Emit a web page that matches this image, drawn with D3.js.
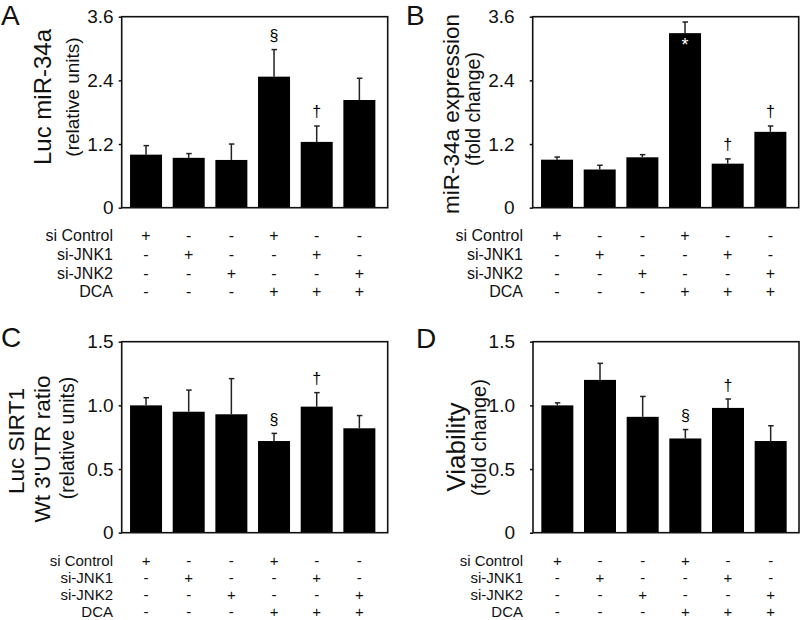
<!DOCTYPE html>
<html><head><meta charset="utf-8">
<script src="https://cdn.jsdelivr.net/npm/d3@7"></script>
<style>
html,body{margin:0;padding:0;background:#fff;}
svg text{font-family:"Liberation Sans",Arial,Helvetica,sans-serif;fill:#111;}
</style></head>
<body>
<svg id="chart" width="800" height="620"></svg>
<script>
// ---------------- data ----------------
const groups = [1, 2, 3, 4, 5, 6];
const conditionLabels = ["si Control", "si-JNK1", "si-JNK2", "DCA"];
const conditionSigns = [
  ["+", "-", "-", "+", "-", "-"],
  ["-", "+", "-", "-", "+", "-"],
  ["-", "-", "+", "-", "-", "+"],
  ["-", "-", "-", "+", "+", "+"]
];
const ticksTop = [0, 1.2, 2.4, 3.6];
const tickLabelsTop = ["0", "1.2", "2.4", "3.6"];
const ticksBottom = [0, 0.5, 1.0, 1.5];
const tickLabelsBottom = ["0", "0.5", "1.0", "1.5"];

const valuesA = [1.00, 0.94, 0.90, 2.47, 1.24, 2.03];
const errorsA = [0.17, 0.08, 0.30, 0.51, 0.30, 0.41];
const marksA = [{bar: 3, symbol: "§"}, {bar: 4, symbol: "†"}];

const valuesB = [0.905, 0.72, 0.95, 3.29, 0.83, 1.43];
const errorsB = [0.05, 0.08, 0.05, 0.21, 0.09, 0.11];
const marksB = [{bar: 3, symbol: "*", inside: true}, {bar: 4, symbol: "†"}, {bar: 5, symbol: "†"}];

const valuesC = [1.00, 0.95, 0.93, 0.72, 0.99, 0.82];
const errorsC = [0.06, 0.17, 0.28, 0.06, 0.11, 0.10];
const marksC = [{bar: 3, symbol: "§"}, {bar: 4, symbol: "†"}];

const valuesD = [1.00, 1.20, 0.91, 0.74, 0.98, 0.72];
const errorsD = [0.02, 0.13, 0.16, 0.07, 0.07, 0.12];
const marksD = [{bar: 3, symbol: "§"}, {bar: 4, symbol: "†"}];

// ---------------- layout ----------------
const svg = d3.select("#chart");
const PW = 266, PH = 191;
const rowsTop = [28, 46.6, 65.3, 83.5];
const rowsBottom = [27.5, 44.6, 61.7, 78.6];

const panels = [
  {letter: "A", lx: 1, ly: 24.5, x0: 121.7, y0: 16.7, max: 3.6, ticks: ticksTop, tickLabels: tickLabelsTop,
   values: valuesA, errors: errorsA, marks: marksA, tickGap: 8, tableX: 113, rows: rowsTop, tableFont: 16,
   ylab: [{t: "Luc miR-34a", x: 42, y: 97, s: 24}, {t: "(relative units)", x: 72, y: 97, s: 19}]},
  {letter: "B", lx: 406, ly: 24.5, x0: 532.7, y0: 16.7, max: 3.6, ticks: ticksTop, tickLabels: tickLabelsTop,
   values: valuesB, errors: errorsB, marks: marksB, tickGap: 18, tableX: 523, rows: rowsTop, tableFont: 16,
   ylab: [{t: "miR-34a expression", x: 451.5, y: 114, s: 22.5}, {t: "(fold change)", x: 472.5, y: 109, s: 19.5}]},
  {letter: "C", lx: 1, ly: 346.7, x0: 121.7, y0: 341.7, max: 1.5, ticks: ticksBottom, tickLabels: tickLabelsBottom,
   values: valuesC, errors: errorsC, marks: marksC, tickGap: 8, tableX: 113, rows: rowsBottom, tableFont: 15,
   ylab: [{t: "Luc SIRT1", x: 16.7, y: 441, s: 22.5}, {t: "Wt 3'UTR ratio", x: 42.5, y: 449, s: 22.5}, {t: "(relative units)", x: 67, y: 438, s: 19.5}]},
  {letter: "D", lx: 416, ly: 348, x0: 533, y0: 341.7, max: 1.5, ticks: ticksBottom, tickLabels: tickLabelsBottom,
   values: valuesD, errors: errorsD, marks: marksD, tickGap: 18, tableX: 523, rows: rowsBottom, tableFont: 15,
   ylab: [{t: "Viability", x: 456, y: 447, s: 26}, {t: "(fold change)", x: 478.5, y: 437.5, s: 20}]}
];

panels.forEach(p => {
  const g = svg.append("g");
  const x = d3.scaleBand().domain(groups).range([p.x0 + 3, p.x0 + 259]).paddingInner(0.25).paddingOuter(0.125);
  const y = d3.scaleLinear().domain([0, p.max]).range([p.y0 + PH, p.y0]);

  // panel letter
  g.append("text").attr("x", p.lx).attr("y", p.ly).attr("font-size", 28).text(p.letter);

  // y-axis titles
  p.ylab.forEach(l => {
    g.append("text")
      .attr("transform", `translate(${l.x},${l.y}) rotate(-90)`)
      .attr("text-anchor", "middle").attr("dominant-baseline", "central")
      .attr("font-size", l.s).text(l.t);
  });

  // bars
  g.selectAll("rect.bar").data(p.values).join("rect").attr("class", "bar")
    .attr("x", (d, i) => x(groups[i])).attr("width", x.bandwidth())
    .attr("y", d => y(d)).attr("height", d => y(0) - y(d))
    .attr("fill", "#000");

  // error bars
  const eg = g.append("g").attr("stroke", "#222").attr("stroke-width", 1.5);
  p.values.forEach((v, i) => {
    const cx = x(groups[i]) + x.bandwidth() / 2;
    const top = y(v + p.errors[i]);
    eg.append("line").attr("x1", cx).attr("x2", cx).attr("y1", y(v)).attr("y2", top);
    eg.append("line").attr("x1", cx - 2.5).attr("x2", cx + 3).attr("y1", top).attr("y2", top);
  });

  // frame
  g.append("rect").attr("x", p.x0).attr("y", p.y0).attr("width", PW).attr("height", PH)
    .attr("fill", "none").attr("stroke", "#111").attr("stroke-width", 1.6);

  // y axis
  const axis = d3.axisLeft(y).tickValues(p.ticks).tickSize(3).tickPadding(p.tickGap - 3)
    .tickFormat((d, i) => p.tickLabels[i]);
  const ag = g.append("g").attr("transform", `translate(${p.x0},0)`).call(axis);
  ag.select(".domain").remove();
  ag.selectAll("line").attr("stroke", "#111").attr("stroke-width", 1.5);
  ag.selectAll("text").attr("font-size", 19).attr("fill", "#111")
    .style("font-family", '"Liberation Sans",Arial,sans-serif');

  // significance marks
  p.marks.forEach(m => {
    const v = p.values[m.bar];
    const cx = x(groups[m.bar]) + x.bandwidth() / 2;
    const cy = m.inside ? y(v) + 12 : y(v + p.errors[m.bar]) - 14;
    g.append("text").attr("x", cx).attr("y", cy)
      .attr("text-anchor", "middle").attr("dominant-baseline", "central")
      .attr("font-size", m.inside ? 18 : 16)
      .style("fill", m.inside ? "#fff" : "#000").text(m.symbol);
  });

  // treatment table
  const base = p.y0 + PH;
  conditionLabels.forEach((lab, r) => {
    const ry = base + p.rows[r];
    g.append("text").attr("x", p.tableX).attr("y", ry)
      .attr("text-anchor", "end").attr("dominant-baseline", "central")
      .attr("font-size", p.tableFont).text(lab);
    conditionSigns[r].forEach((s, i) => {
      g.append("text").attr("x", x(groups[i]) + x.bandwidth() / 2).attr("y", ry)
        .attr("text-anchor", "middle").attr("dominant-baseline", "central")
        .attr("font-size", p.tableFont).text(s);
    });
  });
});
</script>
</body></html>
